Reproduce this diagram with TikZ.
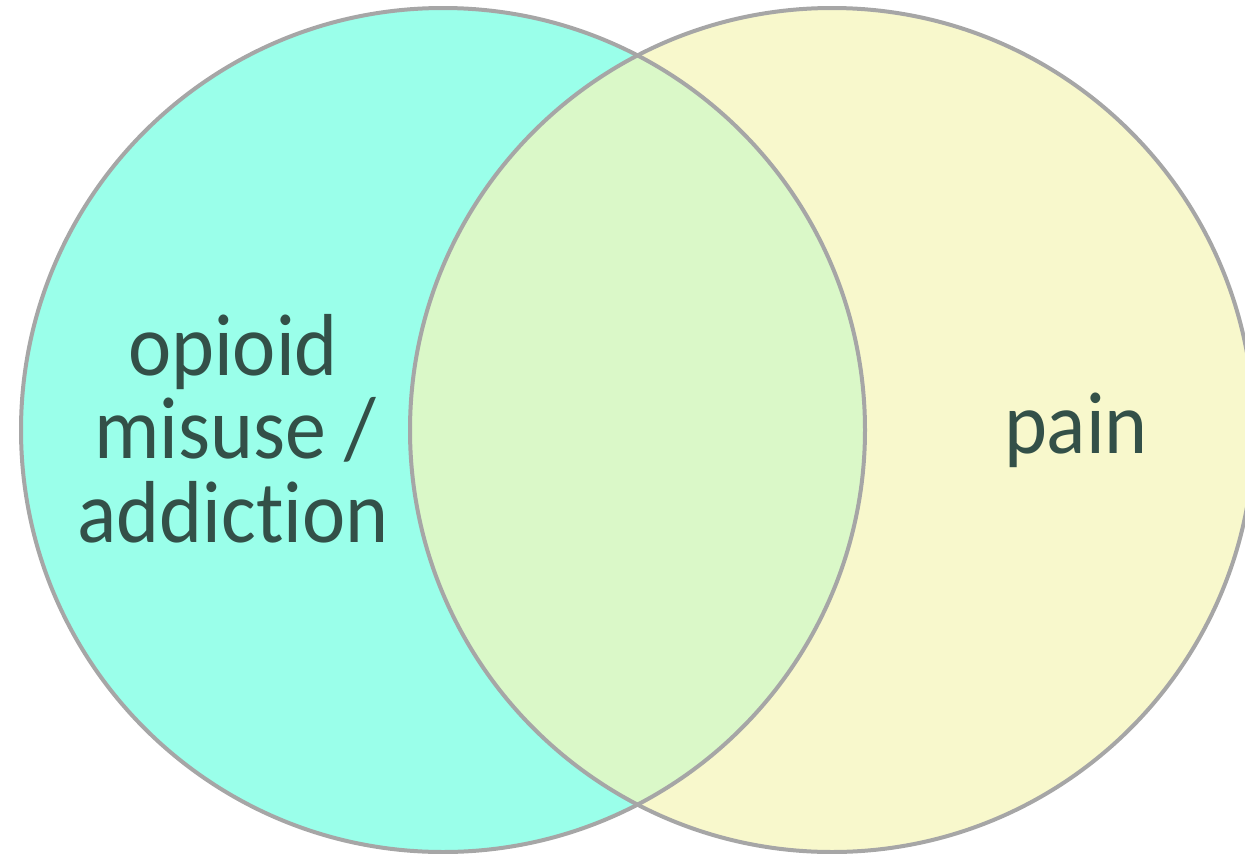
\documentclass[tikz,border=0pt]{standalone}
\usepackage{fontspec}
\setmainfont{Carlito}[Ligatures=NoCommon]
\definecolor{leftfill}{HTML}{9AFFEA}
\definecolor{rightfill}{HTML}{F8F8CC}
\definecolor{midfill}{HTML}{DAF8C8}
\definecolor{ringgray}{HTML}{A6A6A6}
\definecolor{labeltext}{HTML}{335048}
\tikzset{
  ring/.style={draw=ringgray, line width=4pt},
  label/.style={font=\fontsize{88pt}{92pt}\selectfont, text=labeltext, anchor=base, inner sep=0pt, xscale=0.93}
}
\begin{document}
\begin{tikzpicture}[x=1pt,y=1pt]
\useasboundingbox (0,0) rectangle (1245,-854);
\coordinate (cl) at (443,-430);
\coordinate (cr) at (832,-430);
\fill[leftfill] (cl) circle (422);
\fill[rightfill] (cr) circle (422);
\begin{scope}
  \clip (cl) circle (422);
  \fill[midfill] (cr) circle (422);
\end{scope}
\draw[ring] (cl) circle (422);
\draw[ring] (cr) circle (422);
\node[label] (l1) at (233,-375) {opioid};
\node[label] (l2) at (235,-458) {misuse /};
\node[label] (l3) at (233,-542) {addiction};
\node[label] (pain) at (1076,-453) {pain};
\end{tikzpicture}
\end{document}
